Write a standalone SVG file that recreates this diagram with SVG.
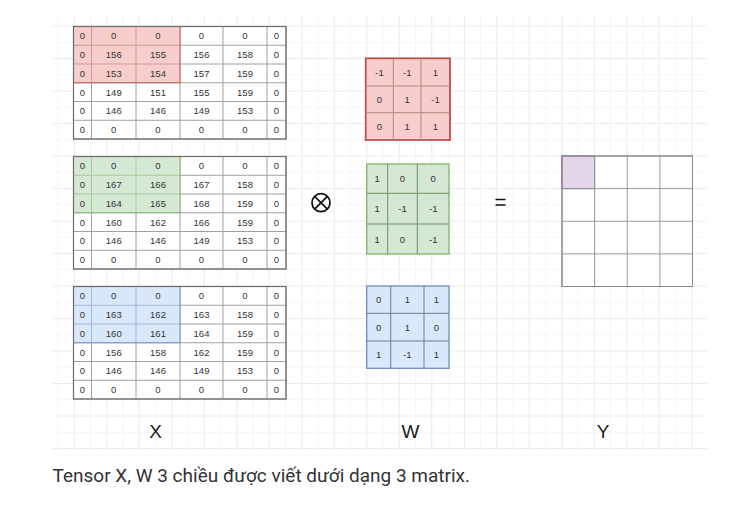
<svg xmlns="http://www.w3.org/2000/svg" width="735" height="511" viewBox="0 0 735 511">
<defs>
<style>
.bg{fill:#ffffff}
.grid{stroke:#ececec;stroke-width:1;fill:none}
.gridm{stroke:#f6f6f6;stroke-width:1;fill:none}
.cell{fill:#ffffff;stroke:#a0a0a0;stroke-width:1}
.outer{fill:none;stroke:#6b6b6b;stroke-width:1.2}
.t{font-family:"Liberation Sans",Arial,sans-serif;font-size:9.5px;fill:#333333;text-anchor:middle;dominant-baseline:central}
.red{fill:#f8cecc;stroke:#b85450}
.green{fill:#d5e8d4;stroke:#82b366}
.blue{fill:#dae8fc;stroke:#6c8ebf}
.purple{fill:#e1d5e7;stroke:#9673a6}
.wl{stroke-width:1;fill:none}
.lab{font-family:"Liberation Sans",Arial,sans-serif;font-size:19px;fill:#1a1a1a;text-anchor:middle}
.cap{font-family:Roboto,"Liberation Sans",sans-serif;font-size:19px;fill:#333333}
</style>
</defs>
<rect class="bg" x="0" y="0" width="735" height="511"/>
<g id="grid">
<path class="gridm" d="M58,15V450M90.5,15V450M123,15V450M155.5,15V450M188,15V450M220.5,15V450M253,15V450M285.5,15V450M318,15V450M350.5,15V450M383,15V450M415.5,15V450M448,15V450M480.5,15V450M513,15V450M545.5,15V450M578,15V450M610.5,15V450M643,15V450M675.5,15V450M52,42.25H707M52,74.75H707M52,107.25H707M52,139.75H707M52,172.25H707M52,204.75H707M52,237.25H707M52,269.75H707M52,302.25H707M52,334.75H707M52,367.25H707M52,399.75H707M52,432.25H707"/>
<path class="grid" d="M74.3,15V450M106.8,15V450M139.3,15V450M171.8,15V450M204.3,15V450M236.8,15V450M269.3,15V450M301.8,15V450M334.3,15V450M366.8,15V450M399.3,15V450M431.8,15V450M464.3,15V450M496.8,15V450M529.3,15V450M561.8,15V450M594.3,15V450M626.8,15V450M659.3,15V450M691.8,15V450M52,26H707M52,58.5H707M52,91H707M52,123.5H707M52,156H707M52,188.5H707M52,221H707M52,253.5H707M52,286H707M52,318.5H707M52,351H707M52,383.5H707M52,416H707M52,448.5H707"/>
</g>
<g id="connectors"></g>
<g id="x1" transform="translate(0,26.5)">
<rect class="cell" x="73.5" y="0" width="212.5" height="112.5"/>
<path class="wl" stroke="#a0a0a0" d="M91.5,0V112.5M136,0V112.5M180,0V112.5M223,0V112.5M267,0V112.5M73.5,18.75H286M73.5,37.5H286M73.5,56.25H286M73.5,75H286M73.5,93.75H286"/>
<rect class="red" x="73.5" y="0" width="106.5" height="56.25" stroke-width="1"/>
<path class="wl" stroke="#d49a97" d="M91.5,0V56.25M136,0V56.25M73.5,18.75H180M73.5,37.5H180"/>
<rect class="outer" x="73.5" y="0" width="212.5" height="112.5"/>
<text class="t" x="82.5" y="9.4">0</text><text class="t" x="113.75" y="9.4">0</text><text class="t" x="158" y="9.4">0</text><text class="t" x="201.5" y="9.4">0</text><text class="t" x="245" y="9.4">0</text><text class="t" x="276.5" y="9.4">0</text>
<text class="t" x="82.5" y="28.1">0</text><text class="t" x="113.75" y="28.1">156</text><text class="t" x="158" y="28.1">155</text><text class="t" x="201.5" y="28.1">156</text><text class="t" x="245" y="28.1">158</text><text class="t" x="276.5" y="28.1">0</text>
<text class="t" x="82.5" y="46.9">0</text><text class="t" x="113.75" y="46.9">153</text><text class="t" x="158" y="46.9">154</text><text class="t" x="201.5" y="46.9">157</text><text class="t" x="245" y="46.9">159</text><text class="t" x="276.5" y="46.9">0</text>
<text class="t" x="82.5" y="65.6">0</text><text class="t" x="113.75" y="65.6">149</text><text class="t" x="158" y="65.6">151</text><text class="t" x="201.5" y="65.6">155</text><text class="t" x="245" y="65.6">159</text><text class="t" x="276.5" y="65.6">0</text>
<text class="t" x="82.5" y="84.4">0</text><text class="t" x="113.75" y="84.4">146</text><text class="t" x="158" y="84.4">146</text><text class="t" x="201.5" y="84.4">149</text><text class="t" x="245" y="84.4">153</text><text class="t" x="276.5" y="84.4">0</text>
<text class="t" x="82.5" y="103.1">0</text><text class="t" x="113.75" y="103.1">0</text><text class="t" x="158" y="103.1">0</text><text class="t" x="201.5" y="103.1">0</text><text class="t" x="245" y="103.1">0</text><text class="t" x="276.5" y="103.1">0</text>
</g>
<g id="x2" transform="translate(0,156.5)">
<rect class="cell" x="73.5" y="0" width="212.5" height="112.5"/>
<path class="wl" stroke="#a0a0a0" d="M91.5,0V112.5M136,0V112.5M180,0V112.5M223,0V112.5M267,0V112.5M73.5,18.75H286M73.5,37.5H286M73.5,56.25H286M73.5,75H286M73.5,93.75H286"/>
<rect class="green" x="73.5" y="0" width="106.5" height="56.25" stroke-width="1"/>
<path class="wl" stroke="#a8c99a" d="M91.5,0V56.25M136,0V56.25M73.5,18.75H180M73.5,37.5H180"/>
<rect class="outer" x="73.5" y="0" width="212.5" height="112.5"/>
<text class="t" x="82.5" y="9.4">0</text><text class="t" x="113.75" y="9.4">0</text><text class="t" x="158" y="9.4">0</text><text class="t" x="201.5" y="9.4">0</text><text class="t" x="245" y="9.4">0</text><text class="t" x="276.5" y="9.4">0</text>
<text class="t" x="82.5" y="28.1">0</text><text class="t" x="113.75" y="28.1">167</text><text class="t" x="158" y="28.1">166</text><text class="t" x="201.5" y="28.1">167</text><text class="t" x="245" y="28.1">158</text><text class="t" x="276.5" y="28.1">0</text>
<text class="t" x="82.5" y="46.9">0</text><text class="t" x="113.75" y="46.9">164</text><text class="t" x="158" y="46.9">165</text><text class="t" x="201.5" y="46.9">168</text><text class="t" x="245" y="46.9">159</text><text class="t" x="276.5" y="46.9">0</text>
<text class="t" x="82.5" y="65.6">0</text><text class="t" x="113.75" y="65.6">160</text><text class="t" x="158" y="65.6">162</text><text class="t" x="201.5" y="65.6">166</text><text class="t" x="245" y="65.6">159</text><text class="t" x="276.5" y="65.6">0</text>
<text class="t" x="82.5" y="84.4">0</text><text class="t" x="113.75" y="84.4">146</text><text class="t" x="158" y="84.4">146</text><text class="t" x="201.5" y="84.4">149</text><text class="t" x="245" y="84.4">153</text><text class="t" x="276.5" y="84.4">0</text>
<text class="t" x="82.5" y="103.1">0</text><text class="t" x="113.75" y="103.1">0</text><text class="t" x="158" y="103.1">0</text><text class="t" x="201.5" y="103.1">0</text><text class="t" x="245" y="103.1">0</text><text class="t" x="276.5" y="103.1">0</text>
</g>
<g id="x3" transform="translate(0,286.5)">
<rect class="cell" x="73.5" y="0" width="212.5" height="112.5"/>
<path class="wl" stroke="#a0a0a0" d="M91.5,0V112.5M136,0V112.5M180,0V112.5M223,0V112.5M267,0V112.5M73.5,18.75H286M73.5,37.5H286M73.5,56.25H286M73.5,75H286M73.5,93.75H286"/>
<rect class="blue" x="73.5" y="0" width="106.5" height="56.25" stroke-width="1"/>
<path class="wl" stroke="#9fb6d6" d="M91.5,0V56.25M136,0V56.25M73.5,18.75H180M73.5,37.5H180"/>
<rect class="outer" x="73.5" y="0" width="212.5" height="112.5"/>
<text class="t" x="82.5" y="9.4">0</text><text class="t" x="113.75" y="9.4">0</text><text class="t" x="158" y="9.4">0</text><text class="t" x="201.5" y="9.4">0</text><text class="t" x="245" y="9.4">0</text><text class="t" x="276.5" y="9.4">0</text>
<text class="t" x="82.5" y="28.1">0</text><text class="t" x="113.75" y="28.1">163</text><text class="t" x="158" y="28.1">162</text><text class="t" x="201.5" y="28.1">163</text><text class="t" x="245" y="28.1">158</text><text class="t" x="276.5" y="28.1">0</text>
<text class="t" x="82.5" y="46.9">0</text><text class="t" x="113.75" y="46.9">160</text><text class="t" x="158" y="46.9">161</text><text class="t" x="201.5" y="46.9">164</text><text class="t" x="245" y="46.9">159</text><text class="t" x="276.5" y="46.9">0</text>
<text class="t" x="82.5" y="65.6">0</text><text class="t" x="113.75" y="65.6">156</text><text class="t" x="158" y="65.6">158</text><text class="t" x="201.5" y="65.6">162</text><text class="t" x="245" y="65.6">159</text><text class="t" x="276.5" y="65.6">0</text>
<text class="t" x="82.5" y="84.4">0</text><text class="t" x="113.75" y="84.4">146</text><text class="t" x="158" y="84.4">146</text><text class="t" x="201.5" y="84.4">149</text><text class="t" x="245" y="84.4">153</text><text class="t" x="276.5" y="84.4">0</text>
<text class="t" x="82.5" y="103.1">0</text><text class="t" x="113.75" y="103.1">0</text><text class="t" x="158" y="103.1">0</text><text class="t" x="201.5" y="103.1">0</text><text class="t" x="245" y="103.1">0</text><text class="t" x="276.5" y="103.1">0</text>
</g>
<g id="w1">
<rect x="448" y="59.5" width="3" height="81" fill="#e8a9a6"/>
<rect class="red" x="365.7" y="58.3" width="84.3" height="81.7" stroke="#a86a67" stroke-width="1.8"/>
<path class="wl" stroke="#b88380" d="M393.3,58.3V140M421,58.3V140M365.7,86H450M365.7,112.7H450"/>
<text class="t" x="379.5" y="72.2">-1</text><text class="t" x="407.2" y="72.2">-1</text><text class="t" x="435.5" y="72.2">1</text>
<text class="t" x="379.5" y="99.4">0</text><text class="t" x="407.2" y="99.4">1</text><text class="t" x="435.5" y="99.4">-1</text>
<text class="t" x="379.5" y="126.4">0</text><text class="t" x="407.2" y="126.4">1</text><text class="t" x="435.5" y="126.4">1</text>
</g>
<g id="w2">
<rect class="green" x="366.7" y="164" width="82.3" height="90" stroke="#5f7f55" stroke-width="1.3"/>
<path class="wl" stroke="#6f8f63" d="M387.7,164V254M417.3,164V254M366.7,193.3H449M366.7,224H449"/>
<text class="t" x="377.2" y="178.7">1</text><text class="t" x="402.5" y="178.7">0</text><text class="t" x="433.2" y="178.7">0</text>
<text class="t" x="377.2" y="208.7">1</text><text class="t" x="402.5" y="208.7">-1</text><text class="t" x="433.2" y="208.7">-1</text>
<text class="t" x="377.2" y="239">1</text><text class="t" x="402.5" y="239">0</text><text class="t" x="433.2" y="239">-1</text>
</g>
<g id="w3">
<rect class="blue" x="366.7" y="286" width="82.3" height="82.3" stroke="#55657f" stroke-width="1.3"/>
<path class="wl" stroke="#6a7c95" d="M390.7,286V368.3M424,286V368.3M366.7,313.3H449M366.7,341H449"/>
<text class="t" x="378.7" y="299.7">0</text><text class="t" x="407.3" y="299.7">1</text><text class="t" x="436.5" y="299.7">1</text>
<text class="t" x="378.7" y="327.2">0</text><text class="t" x="407.3" y="327.2">1</text><text class="t" x="436.5" y="327.2">0</text>
<text class="t" x="378.7" y="354.7">1</text><text class="t" x="407.3" y="354.7">-1</text><text class="t" x="436.5" y="354.7">1</text>
</g>
<g id="otimes" fill="none" stroke="#111111" stroke-width="1.7">
<circle cx="321" cy="202.7" r="9"/>
<path d="M314.6,196.3L327.4,209.1M327.4,196.3L314.6,209.1"/>
</g>
<g id="equals" stroke="#111111" stroke-width="1.6">
<path d="M495.5,199.5H505.5M495.5,205H505.5"/>
</g>
<g id="y">
<rect x="562" y="156" width="130.5" height="130.5" fill="#ffffff" stroke="#888888" stroke-width="1"/>
<rect class="purple" x="562" y="156" width="32.6" height="32.6" stroke-width="1.2"/>
<path class="wl" stroke="#999999" d="M594.6,156V286.5M627.25,156V286.5M659.9,156V286.5M562,188.6H692.5M562,221.25H692.5M562,253.9H692.5"/>
<rect x="562" y="156" width="130.5" height="130.5" fill="none" stroke="#888888" stroke-width="1"/>
</g>
<g id="labels">
<text class="lab" x="155.5" y="437.5">X</text>
<text class="lab" x="410.5" y="437.5">W</text>
<text class="lab" x="603" y="437.5">Y</text>
</g>
<text class="cap" x="52.5" y="481.5">Tensor X, W 3 chiều được viết dưới dạng 3 matrix.</text>
</svg>
